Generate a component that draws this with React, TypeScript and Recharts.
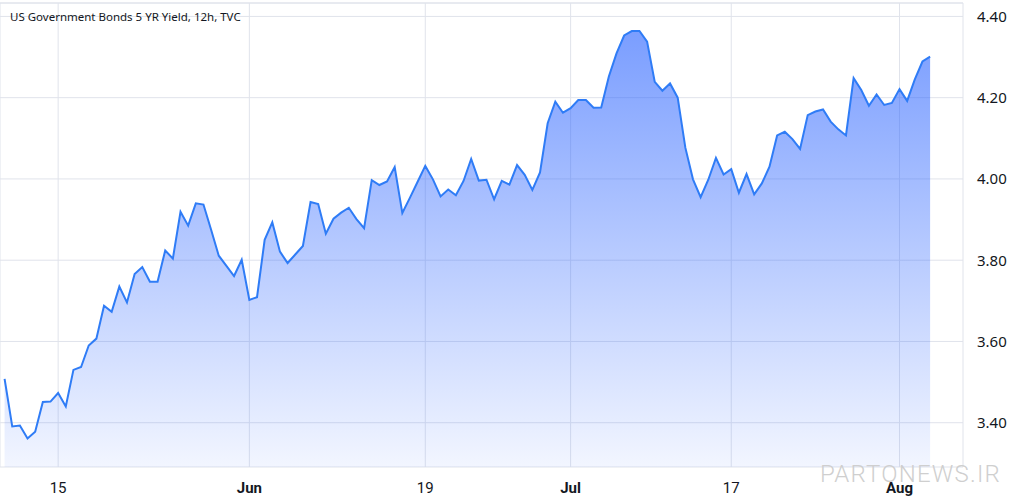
import { Area, AreaChart, CartesianGrid, ReferenceLine, XAxis, YAxis } from "recharts";

// 12h closes, one per bar
const yields = [
  3.508, 3.391, 3.393, 3.361, 3.378, 3.451, 3.452, 3.473, 3.44, 3.53,
  3.537, 3.59, 3.607, 3.688, 3.673, 3.735, 3.696, 3.766, 3.783, 3.747,
  3.747, 3.824, 3.804, 3.919, 3.885, 3.94, 3.937, 3.875, 3.811, 3.786,
  3.761, 3.801, 3.702, 3.709, 3.85, 3.893, 3.821, 3.793, 3.814, 3.835,
  3.943, 3.938, 3.865, 3.902, 3.917, 3.929, 3.901, 3.879, 3.997, 3.985,
  3.994, 4.029, 3.916, 3.954, 3.993, 4.032, 3.999, 3.957, 3.974, 3.96,
  3.995, 4.049, 3.996, 3.998, 3.95, 3.995, 3.986, 4.034, 4.01, 3.973,
  4.016, 4.137, 4.19, 4.163, 4.174, 4.194, 4.194, 4.175, 4.176, 4.252,
  4.309, 4.353, 4.364, 4.364, 4.338, 4.239, 4.217, 4.235, 4.2, 4.077,
  3.999, 3.955, 3.998, 4.052, 4.011, 4.024, 3.966, 4.012, 3.962, 3.989,
  4.03, 4.107, 4.116, 4.098, 4.074, 4.157, 4.166, 4.171, 4.141, 4.122,
  4.107, 4.248, 4.219, 4.18, 4.208, 4.182, 4.187, 4.221, 4.192, 4.245,
  4.289, 4.301,
];

const tickBars = [7, 32, 55, 74, 95, 117];
const tickLabels = ["15", "Jun", "19", "Jul", "17", "Aug"];
const monthLabels = ["Jun", "Jul", "Aug"];
const yTicks = [3.4, 3.6, 3.8, 4.0, 4.2, 4.4];
const yTop = 4.433;
const yBottom = 3.291;

const data = yields.map((v, i) => ({ i, v }));

const XTick = (props: any) => {
  const { x, y, payload } = props;
  const label = tickLabels[tickBars.indexOf(payload.value)] ?? "";
  const bold = monthLabels.includes(label);
  return (
    <text
      x={x}
      y={y + 18}
      textAnchor="middle"
      fill="#131722"
      fontSize={15}
      fontWeight={bold ? 700 : 400}
      fontFamily="Roboto, sans-serif"
    >
      {label}
    </text>
  );
};

export default function App() {
  return (
    <div style={{ position: "relative", width: 1024, height: 501, background: "#fff" }}>
      <style>{`body{margin:0}`}</style>
      <AreaChart width={1024} height={501} data={data} margin={{ top: 3, right: 0, left: 0, bottom: 0 }}>
        <defs>
          <linearGradient id="yieldFill" x1="0" y1="0" x2="0" y2="1">
            <stop offset="0%" stopColor="#2962ff" stopOpacity={0.62} />
            <stop offset="100%" stopColor="#2962ff" stopOpacity={0.06} />
          </linearGradient>
        </defs>
        <CartesianGrid stroke="#e0e3eb" />
        <XAxis
          dataKey="i"
          type="number"
          domain={[-0.6, 125.3]}
          ticks={tickBars}
          tick={<XTick />}
          tickLine={false}
          axisLine={false}
          height={34}
        />
        <YAxis
          orientation="right"
          type="number"
          domain={[yBottom, yTop]}
          ticks={yTicks}
          tickFormatter={(v: number) => v.toFixed(2)}
          tickLine={false}
          axisLine={false}
          tickMargin={8}
          width={61}
          tick={{ fill: "#131722", fontSize: 15, fontFamily: "Noto Sans, sans-serif" }}
        />
        <ReferenceLine y={yTop} stroke="#e0e3eb" />
        <Area
          type="linear"
          dataKey="v"
          stroke="#2f7cf6"
          strokeWidth={2}
          fill="url(#yieldFill)"
          fillOpacity={1}
          isAnimationActive={false}
          dot={false}
          activeDot={false}
        />
      </AreaChart>
      <div
        style={{
          position: "absolute",
          left: 10,
          top: 9,
          fontSize: 11.5,
          color: "#131722",
          fontFamily: "Noto Sans, sans-serif",
        }}
      >
        US Government Bonds 5 YR Yield, 12h, TVC
      </div>
      <div
        style={{
          position: "absolute",
          left: 820,
          top: 460,
          fontSize: 24,
          fontWeight: 300,
          color: "#cfcfcf",
          fontFamily: "Roboto, sans-serif",
          letterSpacing: 1.2,
        }}
      >
        PARTONEWS.IR
      </div>
    </div>
  );
}
